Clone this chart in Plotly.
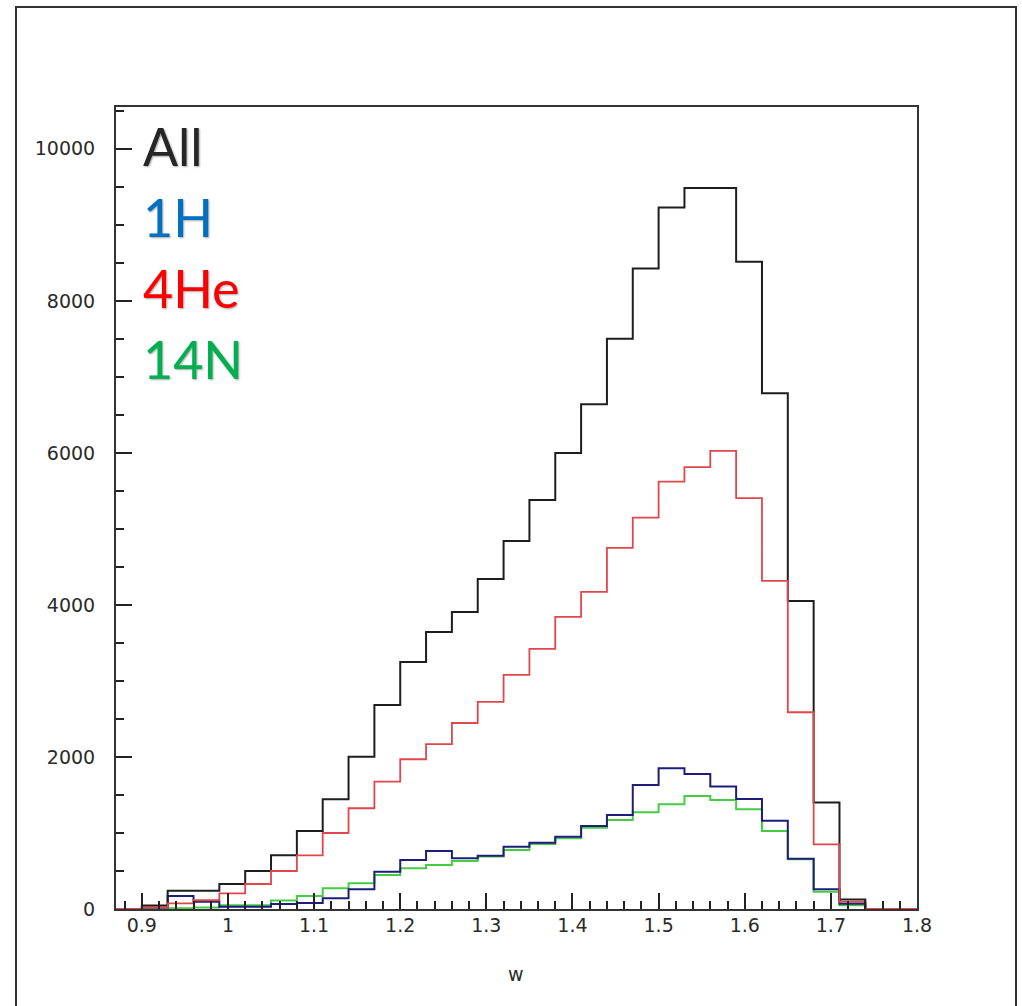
import plotly.graph_objects as go

# ---------------- data ----------------
bin_start = 0.87
bin_width = 0.03
n_bins = 31

all_counts = [0, 45, 240, 240, 330, 500, 706, 1026, 1443, 2004, 2684, 3250, 3645, 3908,
              4342, 4842, 5380, 6000, 6640, 7500, 8425, 9228, 9483, 9483, 8513, 6785,
              4053, 1400, 125, 0, 0]
he4_counts = [0, 20, 75, 115, 206, 329, 500, 706, 1000, 1325, 1675, 1970, 2170, 2447,
              2724, 3079, 3421, 3842, 4171, 4750, 5149, 5622, 5812, 6026, 5404, 4316,
              2588, 851, 95, 0, 0]
h1_counts = [0, 20, 171, 96, 30, 30, 65, 80, 140, 259, 491, 645, 763, 667, 702, 820,
             873, 952, 1092, 1237, 1632, 1851, 1776, 1610, 1447, 1162, 662, 259, 70, 0, 0]
n14_counts = [0, 5, 10, 20, 50, 50, 112, 171, 272, 338, 447, 535, 579, 632, 689, 776,
              855, 930, 1070, 1171, 1272, 1377, 1487, 1434, 1311, 1026, 653, 228, 50, 0, 0]

legend_labels = ["All", "1H", "4He", "14N"]
x_tick_vals = [0.9, 1.0, 1.1, 1.2, 1.3, 1.4, 1.5, 1.6, 1.7, 1.8]
x_tick_text = ["0.9", "1", "1.1", "1.2", "1.3", "1.4", "1.5", "1.6", "1.7", "1.8"]
y_tick_vals = [0, 2000, 4000, 6000, 8000, 10000]
y_tick_text = ["0", "2000", "4000", "6000", "8000", "10000"]
x_title = "w"

# ---------------- build ----------------
edges = [round(bin_start + i * bin_width, 4) for i in range(n_bins + 1)]


def step_trace(counts, color, width, name):
    return go.Scatter(
        x=edges,
        y=list(counts) + [counts[-1]],
        mode="lines",
        line=dict(shape="hv", color=color, width=width),
        name=name,
        showlegend=False,
        hoverinfo="skip",
    )


fig = go.Figure()
fig.add_trace(step_trace(n14_counts, "#45cc45", 2, "14N"))
fig.add_trace(step_trace(h1_counts, "#1e1e7a", 2, "1H"))
fig.add_trace(step_trace(all_counts, "#1e1e1e", 2, "All"))
fig.add_trace(step_trace(he4_counts, "#e0474c", 1.8, "4He"))

W, H = 1022, 1006
L, R, T, B = 116, 105, 107, 97
pw, ph = W - L - R, H - T - B


def px_to_paper(px, py):
    return (px - L) / pw, (H - B - py) / ph


tick_font = dict(family="DejaVu Sans", size=19, color="#2a2a2a")

fig.update_layout(
    width=W,
    height=H,
    margin=dict(l=L, r=R, t=T, b=B),
    paper_bgcolor="white",
    plot_bgcolor="white",
    xaxis=dict(
        range=[edges[0], edges[-1]],
        tickmode="array",
        tickvals=x_tick_vals,
        ticktext=x_tick_text,
        ticks="inside",
        ticklen=16,
        tickwidth=1.5,
        tickcolor="#222",
        minor=dict(ticks="inside", ticklen=8, tickwidth=1.5, tickcolor="#222",
                   tick0=0.9, dtick=0.02, showgrid=False),
        showline=True,
        linecolor="#333",
        linewidth=2,
        mirror=True,
        showgrid=False,
        zeroline=False,
        tickfont=tick_font,
        ticklabelstandoff=-2,
    ),
    yaxis=dict(
        range=[0, 10550],
        tickmode="array",
        tickvals=y_tick_vals,
        ticktext=y_tick_text,
        ticks="inside",
        ticklen=16,
        tickwidth=1.5,
        tickcolor="#222",
        minor=dict(ticks="inside", ticklen=8, tickwidth=1.5, tickcolor="#222",
                   tick0=0, dtick=500, showgrid=False),
        showline=True,
        linecolor="#333",
        linewidth=2,
        mirror=True,
        showgrid=False,
        zeroline=False,
        tickfont=tick_font,
        ticklabelstandoff=15,
    ),
)

# outer frame
x0, y0 = px_to_paper(16, 7)
x1, y1 = px_to_paper(1016, 1012)
fig.add_shape(type="rect", xref="paper", yref="paper", x0=x0, y0=y1, x1=x1, y1=y0,
              line=dict(color="#333", width=2), layer="above")

# axis title
tx, ty = px_to_paper(516, 974)
fig.add_annotation(x=tx, y=ty, xref="paper", yref="paper", text=x_title, showarrow=False,
                   xanchor="center", yanchor="middle",
                   font=dict(family="DejaVu Sans", size=19, color="#2a2a2a"))

# big coloured labels
label_colors = ["#262626", "#0070c0", "#ff0000", "#00b050"]
label_centers = [146, 217, 288, 359]
for text, color, cy in zip(legend_labels, label_colors, label_centers):
    ax, ay = px_to_paper(141, cy)
    fig.add_annotation(x=ax, y=ay, xref="paper", yref="paper", text=text, showarrow=False,
                       xanchor="left", yanchor="middle",
                       font=dict(family="Lato", size=52, color=color,
                                 shadow="1px 1px 2px rgba(0,0,0,0.35)"))

fig.write_html("out.html")
